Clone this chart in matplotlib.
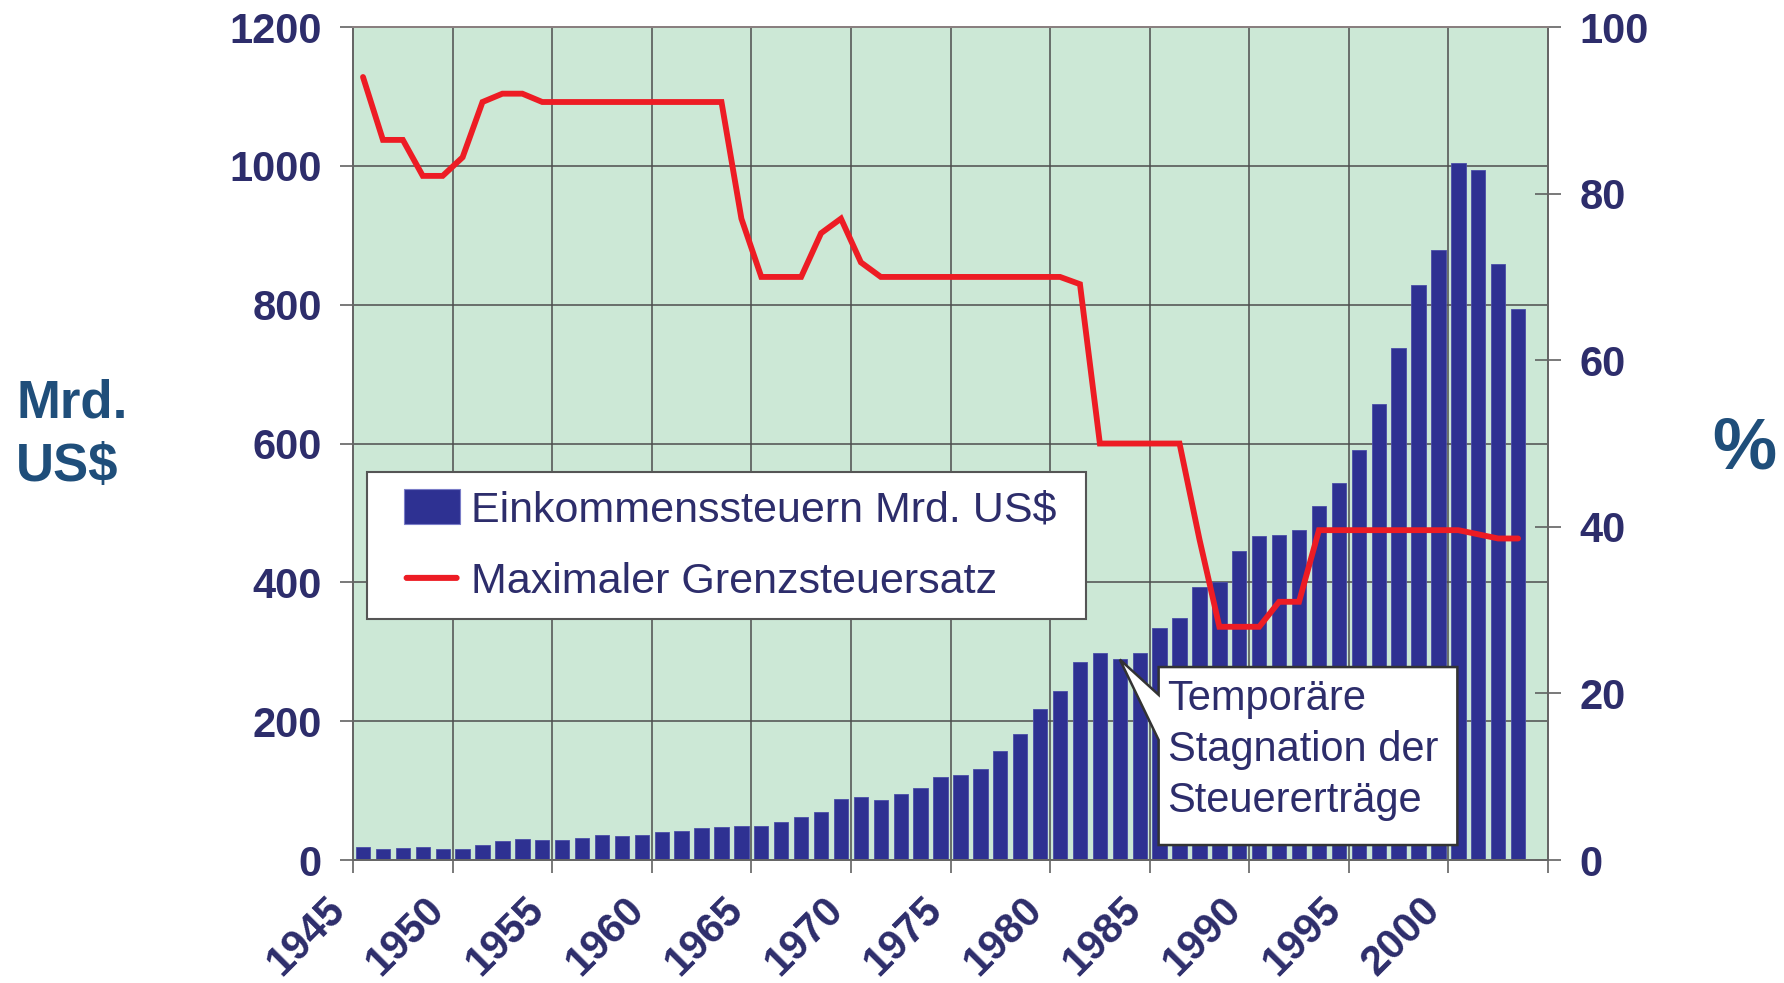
import matplotlib
matplotlib.use("Agg")
import matplotlib.pyplot as plt
from matplotlib.patches import Patch, Polygon, Rectangle, FancyBboxPatch
from matplotlib.legend_handler import HandlerPatch

plt.rcParams["font.family"] = ["Liberation Sans", "DejaVu Sans"]

# Einkommenssteuern (Mrd. US$) und maximaler Grenzsteuersatz (%), 1945-2003
years = list(range(1945, 2004))
income_tax = [18.4, 16.1, 17.9, 19.3, 15.6, 15.8, 21.6, 27.9, 29.8, 29.5,
              28.7, 32.2, 35.6, 34.7, 36.7, 40.7, 41.3, 45.6, 47.6, 48.7,
              48.8, 55.4, 61.5, 68.7, 87.2, 90.4, 86.2, 94.7, 103.2, 119.0,
              122.4, 131.6, 157.6, 181.0, 217.8, 244.1, 285.9, 297.7, 288.9, 298.4,
              334.5, 349.0, 392.6, 401.2, 445.7, 466.9, 467.8, 476.0, 509.7, 543.1,
              590.2, 656.4, 737.5, 828.6, 879.5, 1004.5, 994.3, 858.3, 793.7]
top_rate = [94.0, 86.45, 86.45, 82.13, 82.13, 84.36, 91.0, 92.0, 92.0, 91.0,
            91.0, 91.0, 91.0, 91.0, 91.0, 91.0, 91.0, 91.0, 91.0, 77.0,
            70.0, 70.0, 70.0, 75.25, 77.0, 71.75, 70.0, 70.0, 70.0, 70.0,
            70.0, 70.0, 70.0, 70.0, 70.0, 70.0, 69.13, 50.0, 50.0, 50.0,
            50.0, 50.0, 38.5, 28.0, 28.0, 28.0, 31.0, 31.0, 39.6, 39.6,
            39.6, 39.6, 39.6, 39.6, 39.6, 39.6, 39.1, 38.6, 38.6]
year_ticks = list(range(1945, 2006, 5))
tick_labels = [str(y) if y <= 2000 else "" for y in year_ticks]
legend_labels = ["Einkommenssteuern Mrd. US$ ", "Maximaler Grenzsteuersatz "]

bar_color = "#2E3192"
line_color = "#ED1C24"
text_color = "#2D2D6B"
label_color = "#1F4E7A"
bg_color = "#CCE8D6"
grid_color = "#4D4D4D"

fig = plt.figure(figsize=(17.84, 9.83), dpi=100)
ax = fig.add_axes([0.1979, 0.1251, 0.6698, 0.8474])
ax2 = ax.twinx()

ax.set_facecolor(bg_color)
ax.set_axisbelow(True)
xs = [y + 0.5 for y in years]
ax.bar(xs, income_tax, width=0.72, color=bar_color, edgecolor="#4A4DA8",
       linewidth=0.6, zorder=2)
ax2.plot(xs, top_rate, color=line_color, lw=4.2, solid_joinstyle="miter",
         solid_capstyle="round", zorder=3)

ax.set_xlim(1945, 2005)
ax.set_ylim(0, 1200)
ax2.set_ylim(0, 100)
ax.set_yticks(range(0, 1201, 200))
ax2.set_yticks(range(0, 101, 20))
ax.set_xticks(year_ticks)
ax.set_xticklabels(tick_labels, rotation=45, ha="right")

ax.grid(True, color=grid_color, lw=1.1)
for a in (ax, ax2):
    for s in a.spines.values():
        s.set_color("#666666")
        s.set_linewidth(1.4)
ax.spines["top"].set_color("#8A8080")
ax2.spines["top"].set_color("#8A8080")

ax.tick_params(axis="y", direction="out", length=9.5, width=1.1,
               color="#555555", pad=13)
ax.tick_params(axis="x", direction="out", length=9.5, width=1.1,
               color="#555555", pad=12)
ax2.tick_params(axis="y", direction="inout", length=19, width=1.1,
                color="#555555", pad=13)
for lab in ax.get_yticklabels() + ax.get_xticklabels() + ax2.get_yticklabels():
    lab.set_fontsize(30)
    lab.set_fontweight("bold")
    lab.set_color(text_color)

fig.text(0.009, 0.557, "Mrd.\nUS$", fontsize=38, fontweight="bold",
         color=label_color, ha="left", va="center", linespacing=1.35)
fig.text(0.978, 0.543, "%", fontsize=52, fontweight="bold",
         color=label_color, ha="center", va="center")


# Legendensymbole etwas nach rechts eingerueckt wie im Original
def box_handle(legend, orig_handle, xdescent, ydescent, width, height, fontsize):
    w = 1.3 * fontsize
    return Rectangle((width - w - xdescent, -ydescent), w, height)


def line_handle(legend, orig_handle, xdescent, ydescent, width, height, fontsize):
    w = 1.3 * fontsize
    t = 0.14 * fontsize
    return FancyBboxPatch((width - w - xdescent + t / 2, -ydescent + height / 2),
                          w - t, 0, boxstyle=f"round,pad={t / 2}")


bar_key = Patch(facecolor=bar_color, edgecolor="#7A7DC8", lw=0.8)
line_key = Patch(facecolor=line_color, edgecolor="none")
leg = ax2.legend([bar_key, line_key], legend_labels,
                 handler_map={bar_key: HandlerPatch(patch_func=box_handle),
                              line_key: HandlerPatch(patch_func=line_handle)},
                 loc="upper left", bbox_to_anchor=(0.0117, 0.4658),
                 borderaxespad=0, fancybox=False, framealpha=1,
                 edgecolor="#555555", fontsize=31, handlelength=1.75,
                 handleheight=0.86, handletextpad=0.26, borderpad=0.4,
                 labelspacing=0.7, labelcolor=text_color)
leg.get_frame().set_linewidth(1.5)

# Sprechblase zur Stagnation 1982-1984
i = years.index(1983)
tip = (xs[i], income_tax[i])
bx0, bx1, by0, by1 = 1985.45, 2000.45, 21.6, 278.0
callout = Polygon([(bx0, by1), (bx1, by1), (bx1, by0), (bx0, by0),
                   (bx0, 173.0), tip, (bx0, 238.0)], closed=True,
                  facecolor="white", edgecolor="#333333", lw=1.8, zorder=5)
ax.add_patch(callout)
ax.text(bx0 + 0.45, 261, "Temporäre\nStagnation der\nSteuererträge",
        fontsize=30, color=text_color, ha="left", va="top",
        linespacing=1.36, zorder=6)

fig.savefig("out.png", dpi=100)
